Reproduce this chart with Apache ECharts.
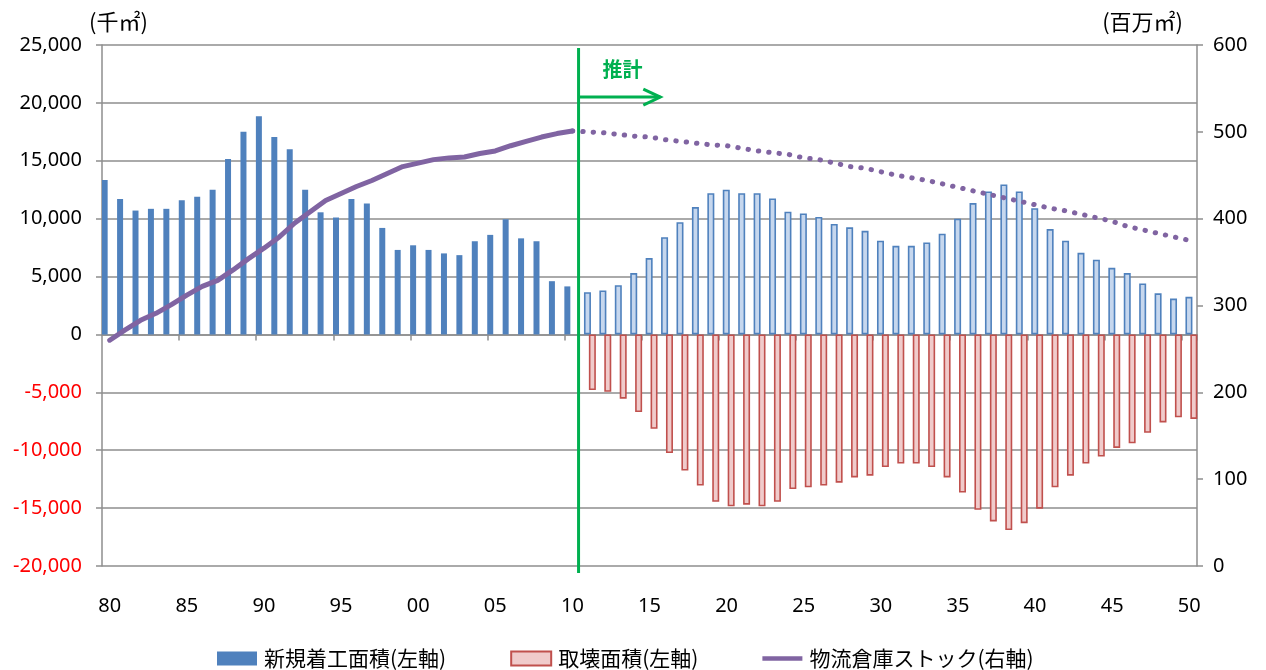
<!DOCTYPE html>
<html>
<head>
<meta charset="utf-8">
<script src="https://cdn.jsdelivr.net/npm/echarts@6/dist/echarts.min.js"></script>
<style>
  html, body { margin: 0; padding: 0; background: #fff; }
  #chart { width: 1266px; height: 670px; }
</style>
</head>
<body>
<div id="chart"></div>
<script>
// Years on the category axis (1980–2050)
const years = [
  '1980','1981','1982','1983','1984','1985','1986','1987','1988','1989',
  '1990','1991','1992','1993','1994','1995','1996','1997','1998','1999',
  '2000','2001','2002','2003','2004','2005','2006','2007','2008','2009',
  '2010','2011','2012','2013','2014','2015','2016','2017','2018','2019',
  '2020','2021','2022','2023','2024','2025','2026','2027','2028','2029',
  '2030','2031','2032','2033','2034','2035','2036','2037','2038','2039',
  '2040','2041','2042','2043','2044','2045','2046','2047','2048','2049',
  '2050'
];

// New construction starts, actual 1980–2010 (thousand m²)
const newStartsActual = [
  13350, 11700, 10700, 10850, 10850, 11600, 11900, 12500, 15150, 17500,
  18850, 17050, 16000, 12500, 10550, 10100, 11700, 11300, 9200, 7300,
  7700, 7300, 7000, 6850, 8050, 8600, 9950, 8300, 8050, 4600,
  4150
];

// New construction starts, projected 2011–2050 (thousand m²)
const newStartsProjected = [
  3650, 3800, 4250, 5300, 6600, 8400, 9700, 11000, 12200, 12500,
  12200, 12200, 11750, 10600, 10450, 10150, 9550, 9250, 8950, 8100,
  7650, 7650, 7950, 8700, 10000, 11350, 12350, 12950, 12350, 10900,
  9100, 8100, 7050, 6450, 5750, 5300, 4400, 3550, 3100, 3250
];

// Demolished floor area, projected 2011–2050 (thousand m², negative)
const demolitionProjected = [
  -4800, -4950, -5550, -6700, -8150, -10250, -11750, -13050, -14450, -14850,
  -14700, -14850, -14450, -13350, -13200, -13050, -12800, -12350, -12200, -11450,
  -11150, -11150, -11450, -12350, -13650, -15150, -16150, -16900, -16300, -15050,
  -13200, -12200, -11150, -10550, -9800, -9400, -8500, -7600, -7150, -7300
];

// Logistics warehouse stock, actual 1980–2010 (million m²)
const stockActual = [
  260, 272, 283, 291, 301, 312, 322, 329, 341, 354,
  366, 379, 395, 408, 421, 429, 437, 444, 452, 460,
  464, 468, 470, 471, 475, 478, 484, 489, 494, 498,
  501
];

// Logistics warehouse stock, projected 2010–2050 (million m²)
const stockProjected = [
  501, 500, 499, 497, 495, 494, 491, 489, 487, 485,
  484, 481, 478, 476, 474, 470, 468, 464, 460, 458,
  454, 450, 447, 444, 440, 436, 432, 428, 424, 420,
  416, 412, 409, 405, 401, 397, 391, 387, 383, 379,
  375
];

// Left / right axis ranges
const leftAxis = { min: -20000, max: 25000, interval: 5000 };
const rightAxis = { min: 0, max: 600, interval: 100 };

const N = years.length;
const nActual = newStartsActual.length;
function padFront(arr, start) {
  const out = new Array(N).fill('-');
  arr.forEach((v, i) => { out[start + i] = v; });
  return out;
}

const dark = padFront(newStartsActual, 0);
const light = padFront(newStartsProjected, nActual);
const demo = padFront(demolitionProjected, nActual);
const stockA = padFront(stockActual, 0);
const stockP = padFront(stockProjected, nActual - 1);

const GRID = '#8E8E8E';
const GREEN = '#00B050';
const PURPLE = '#8064A2';
const FONT = "'Noto Sans', 'Noto Sans CJK JP', sans-serif";
const JP = "'Noto Sans CJK JP', 'Noto Sans', sans-serif";

const chart = echarts.init(document.getElementById('chart'), null, { renderer: 'canvas' });

function fmt(v) {
  const s = Math.abs(v).toString().replace(/\B(?=(\d{3})+(?!\d))/g, ',');
  return v < 0 ? '{neg|-' + s + '}' : '{pos|' + s + '}';
}

chart.setOption({
  animation: false,
  backgroundColor: '#fff',
  textStyle: { fontFamily: FONT },
  grid: { left: 102, right: 69, top: 45, bottom: 104 },
  legend: {
    top: 643,
    left: 212,
    itemWidth: 40,
    itemHeight: 14,
    itemGap: 64,
    textStyle: { fontFamily: JP, fontSize: 21, color: '#000', padding: [0, 0, 0, 2] },
    data: [
      { name: '新規着工面積(左軸)', icon: 'rect' },
      { name: '取壊面積(左軸)', icon: 'rect' },
      { name: '物流倉庫ストック(右軸)', icon: 'path://M0,0h43v5h-43z' }
    ]
  },
  xAxis: [
    {
      type: 'category',
      data: years,
      position: 'bottom',
      boundaryGap: true,
      axisLine: { show: false, onZero: false },
      axisTick: { show: false },
      axisLabel: {
        interval: (i) => i % 5 === 0,
        formatter: (v) => v.slice(2),
        fontSize: 20,
        color: '#000',
        margin: 30,
        fontFamily: FONT
      },
      splitLine: { show: false }
    },
    {
      type: 'category',
      data: years,
      position: 'bottom',
      boundaryGap: true,
      axisLine: { show: true, onZero: true, onZeroAxisIndex: 0, lineStyle: { color: GRID, width: 1.5 } },
      axisTick: { show: true, interval: (i) => i % 5 === 0 && i > 0, length: 6, lineStyle: { color: GRID, width: 1.5 } },
      axisLabel: { show: false },
      splitLine: { show: false }
    }
  ],
  yAxis: [
    {
      type: 'value',
      min: leftAxis.min, max: leftAxis.max, interval: leftAxis.interval,
      position: 'left',
      axisLine: { show: true, lineStyle: { color: GRID, width: 1.5 } },
      axisTick: { show: true, length: 6, lineStyle: { color: GRID, width: 1.5 } },
      splitLine: { show: true, lineStyle: { color: GRID, width: 1.5 } },
      axisLabel: {
        margin: 20,
        formatter: fmt,
        rich: {
          pos: { color: '#000', fontSize: 20, fontFamily: FONT },
          neg: { color: '#FF0000', fontSize: 20, fontFamily: FONT }
        }
      }
    },
    {
      type: 'value',
      min: rightAxis.min, max: rightAxis.max, interval: rightAxis.interval,
      position: 'right',
      axisLine: { show: true, lineStyle: { color: GRID, width: 1.5 } },
      axisTick: { show: true, length: 6, lineStyle: { color: GRID, width: 1.5 } },
      splitLine: { show: false },
      axisLabel: { margin: 16, fontSize: 20, color: '#000', fontFamily: FONT }
    }
  ],
  series: [
    {
      name: '新規着工面積(左軸)',
      type: 'bar',
      data: dark,
      barWidth: 6,
      barGap: '-30%',
      itemStyle: { color: '#4F81BD' }
    },
    {
      name: '新規着工面積(推計)',
      type: 'bar',
      data: light,
      barWidth: 7,
      barGap: '-30%',
      itemStyle: { color: '#C6D7EE', borderColor: '#4F81BD', borderWidth: 1.6 }
    },
    {
      name: '取壊面積(左軸)',
      type: 'bar',
      data: demo,
      barWidth: 7,
      barGap: '-30%',
      itemStyle: { color: '#F0CBCB', borderColor: '#C0504D', borderWidth: 1.6 }
    },
    {
      name: '物流倉庫ストック(右軸)',
      type: 'line',
      yAxisIndex: 1,
      data: stockA,
      symbol: 'none',
      showSymbol: false,
      lineStyle: { color: PURPLE, width: 5, cap: 'round', join: 'round' },
      itemStyle: { color: PURPLE },
      z: 5
    },
    {
      name: '物流倉庫ストック(推計)',
      type: 'line',
      yAxisIndex: 1,
      data: stockP,
      symbol: 'none',
      showSymbol: false,
      lineStyle: { color: PURPLE, width: 5, type: [0.4, 10], cap: 'round' },
      itemStyle: { color: PURPLE },
      z: 5
    }
  ]
});

// Projection marker: vertical divider between 2010 and 2011, arrow and caption
const x2010 = chart.convertToPixel({ xAxisIndex: 0 }, '2010');
const x2011 = chart.convertToPixel({ xAxisIndex: 0 }, '2011');
const xDiv = x2010 + (x2011 - x2010) * 0.4;
const yTop = chart.convertToPixel({ yAxisIndex: 0 }, leftAxis.max);
const yBot = chart.convertToPixel({ yAxisIndex: 0 }, leftAxis.min);
const yArrow = chart.convertToPixel({ yAxisIndex: 0 }, 20500);
const arrowLen = (x2011 - x2010) * 5.3;

chart.setOption({
  graphic: [
    {
      type: 'line', z: 50,
      shape: { x1: xDiv, y1: yTop + 3, x2: xDiv, y2: yBot + 7 },
      style: { stroke: GREEN, lineWidth: 3 }
    },
    {
      type: 'line', z: 50,
      shape: { x1: xDiv, y1: yArrow, x2: xDiv + arrowLen, y2: yArrow },
      style: { stroke: GREEN, lineWidth: 3 }
    },
    {
      type: 'polyline', z: 50,
      shape: { points: [[xDiv + arrowLen - 17, yArrow - 8], [xDiv + arrowLen, yArrow], [xDiv + arrowLen - 17, yArrow + 8]] },
      style: { stroke: GREEN, lineWidth: 3, fill: null, lineJoin: 'miter' }
    },
    {
      type: 'text', z: 50,
      x: xDiv + 44, y: yTop + 24,
      style: { text: '推計', fill: GREEN, font: "bold 20px 'Noto Sans CJK JP'", align: 'center', verticalAlign: 'middle' }
    },
    {
      type: 'text',
      x: 89, y: 22,
      style: { text: '(千㎡)', fill: '#000', font: "22px 'Noto Sans CJK JP'", align: 'left', verticalAlign: 'middle' }
    },
    {
      type: 'text',
      x: 1183, y: 22,
      style: { text: '(百万㎡)', fill: '#000', font: "22px 'Noto Sans CJK JP'", align: 'right', verticalAlign: 'middle' }
    }
  ]
});
</script>
</body>
</html>
